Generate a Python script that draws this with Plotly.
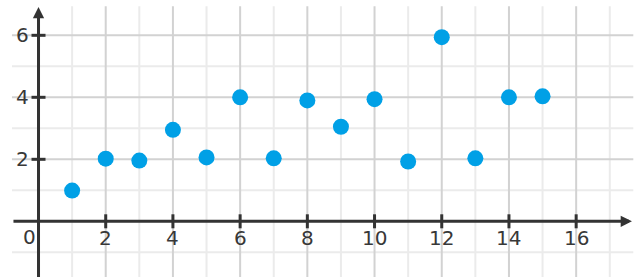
import plotly.graph_objects as go

# Data
x_vals = [1, 2, 3, 4, 5, 6, 7, 8, 9, 10, 11, 12, 13, 14, 15]
y_vals = [0.99, 2.02, 1.96, 2.95, 2.06, 4.0, 2.03, 3.9, 3.05, 3.94, 1.93, 5.94, 2.03, 4.0, 4.03]

x_ticks = [2, 4, 6, 8, 10, 12, 14, 16]
y_ticks = [2, 4, 6]
x_minor = [1, 3, 5, 7, 9, 11, 13, 15, 17]
y_minor = [-1, 1, 3, 5]

X_RANGE = [-1.146, 17.87]
Y_RANGE = [-1.797, 7.139]
GRID_X = [-0.79, 17.7]
GRID_Y = [-1.9, 6.94]

AXIS_COLOR = "#333333"
DOT_COLOR = "#00A0E6"
FONT = "DejaVu Sans"

fig = go.Figure()

shapes = []
for v in x_minor:
    shapes.append(dict(type="line", xref="x", yref="y", x0=v, x1=v, y0=GRID_Y[0], y1=GRID_Y[1],
                       line=dict(color="#ebebeb", width=2), layer="below"))
for v in y_minor:
    shapes.append(dict(type="line", xref="x", yref="y", y0=v, y1=v, x0=GRID_X[0], x1=GRID_X[1],
                       line=dict(color="#ebebeb", width=2), layer="below"))
for v in x_ticks:
    shapes.append(dict(type="line", xref="x", yref="y", x0=v, x1=v, y0=GRID_Y[0], y1=GRID_Y[1],
                       line=dict(color="#d2d2d2", width=2), layer="below"))
for v in y_ticks:
    shapes.append(dict(type="line", xref="x", yref="y", y0=v, y1=v, x0=GRID_X[0], x1=GRID_X[1],
                       line=dict(color="#d2d2d2", width=2), layer="below"))

# tick marks
fig.add_trace(go.Scatter(x=x_ticks, y=[0] * len(x_ticks), mode="markers", hoverinfo="skip",
                         marker=dict(symbol="line-ns-open", size=10, color=AXIS_COLOR,
                                     line=dict(width=3, color=AXIS_COLOR))))
fig.add_trace(go.Scatter(x=[0] * len(y_ticks), y=y_ticks, mode="markers", hoverinfo="skip",
                         marker=dict(symbol="line-ew-open", size=10, color=AXIS_COLOR,
                                     line=dict(width=3, color=AXIS_COLOR))))

# data points
fig.add_trace(go.Scatter(x=x_vals, y=y_vals, mode="markers",
                         marker=dict(size=16, color=DOT_COLOR, line=dict(width=0))))

annotations = []
# axes with arrows
annotations.append(dict(x=17.66, y=0, ax=GRID_X[0], ay=0, xref="x", yref="y", axref="x", ayref="y",
                        text="", showarrow=True, arrowhead=2, arrowsize=0.75, arrowwidth=3,
                        arrowcolor=AXIS_COLOR, standoff=0, startstandoff=0))
annotations.append(dict(x=0, y=6.91, ax=0, ay=-2.2, xref="x", yref="y", axref="x", ayref="y",
                        text="", showarrow=True, arrowhead=2, arrowsize=0.75, arrowwidth=3,
                        arrowcolor=AXIS_COLOR, standoff=0, startstandoff=0))

lab_font = dict(family=FONT, size=20, color="#383838")
for v in x_ticks:
    annotations.append(dict(x=v, y=0, xref="x", yref="y", text=str(v), showarrow=False,
                            xanchor="center", yanchor="middle", yshift=-17, font=lab_font))
for v in y_ticks:
    annotations.append(dict(x=0, y=v, xref="x", yref="y", text=str(v), showarrow=False,
                            xanchor="right", yanchor="middle", xshift=-8, font=lab_font))
annotations.append(dict(x=0, y=0, xref="x", yref="y", text="0", showarrow=False,
                        xanchor="center", yanchor="middle", xshift=-9.5, yshift=-16, font=lab_font))

fig.update_layout(
    width=639, height=277,
    margin=dict(l=0, r=0, t=0, b=0),
    paper_bgcolor="white", plot_bgcolor="white",
    showlegend=False,
    shapes=shapes,
    annotations=annotations,
    xaxis=dict(range=X_RANGE, visible=False, fixedrange=True),
    yaxis=dict(range=Y_RANGE, visible=False, fixedrange=True),
)

fig.write_html("out.html")
